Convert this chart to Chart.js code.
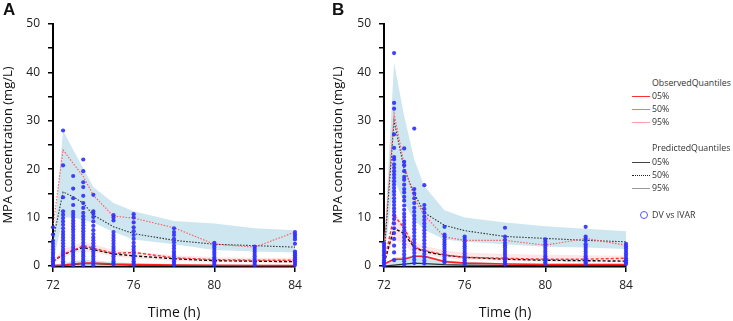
<!DOCTYPE html>
<html>
<head>
<meta charset="utf-8">
<script src="https://cdn.jsdelivr.net/npm/chart.js@4.4.1/dist/chart.umd.min.js"></script>
<style>
  body { margin: 0; background: #fff; width: 733px; height: 321px; overflow: hidden; position: relative; font-family: "Open Sans", sans-serif; }
  canvas { position: absolute; top: 0; }
  .panel { position: absolute; font: bold 17px "Liberation Sans", Arial, sans-serif; color: #111; }
  .leg { position: absolute; left: 630px; font-family: "Open Sans", sans-serif; font-size: 8.8px; color: #333; }
  .leg div { position: absolute; white-space: nowrap; }
  .smp { position: absolute; left: 2px; width: 18px; height: 0; }
</style>
</head>
<body>
<canvas id="chartA" width="315" height="321" style="left:0px"></canvas>
<canvas id="chartB" width="310" height="321" style="left:330px"></canvas>
<div class="panel" style="left:3px; top:0px">A</div>
<div class="panel" style="left:332px; top:0px">B</div>
<div class="leg" style="top:0">
  <div style="left:22px; top:77px">ObservedQuantiles</div>
  <span class="smp" style="top:96px; border-top:1.5px solid #ff3030"></span><div style="left:22px; top:90px">05%</div>
  <span class="smp" style="top:109px; border-top:1px solid #ff7070"></span><div style="left:22px; top:103px">50%</div>
  <span class="smp" style="top:122px; border-top:1px solid #ffa0a0"></span><div style="left:22px; top:116px">95%</div>
  <div style="left:22px; top:142px">PredictedQuantiles</div>
  <span class="smp" style="top:162px; border-top:1.5px solid #444"></span><div style="left:22px; top:156px">05%</div>
  <span class="smp" style="top:175px; border-top:1px dotted #222"></span><div style="left:22px; top:169px">50%</div>
  <span class="smp" style="top:188px; border-top:1px solid #999"></span><div style="left:22px; top:182px">95%</div>
  <span style="position:absolute; left:10px; top:211px; width:6px; height:6px; border:1px solid #5555ff; border-radius:50%"></span>
  <div style="left:22px; top:209px">DV vs IVAR</div>
</div>
<script>
// sampling times (h)
const times = [72, 72.5, 73, 73.5, 74, 75, 76, 78, 80, 82, 84];

// panel A : quantile lines
const obs95A = [8, 24, 21.2, 18.5, 14.6, 10.3, 9.9, 7.9, 4.5, 3.9, 7];
const pred95A = [5.3, 15.3, 14.3, 13, 10.5, 8.1, 6.7, 5.3, 4.5, 4.2, 3.9];
const obs50A = [1, 2.5, 3.2, 4.2, 3.7, 2.6, 2.8, 1.7, 1.3, 1.2, 1.2];
const pred50A = [1, 2.3, 3.2, 3.8, 3.4, 2.5, 2.1, 1.5, 1.1, 1, 0.9];
const obs05A = [0.1, 0.2, 0.4, 0.6, 0.6, 0.4, 0.3, 0.2, 0.15, 0.1, 0.1];
const pred05A = [0, 0.1, 0.3, 0.5, 0.5, 0.3, 0.2, 0.1, 0.1, 0.1, 0.1];
// panel A : shaded intervals
const bandHiA = [4, 28, 24, 20.2, 16.3, 13, 11.3, 9.3, 8.8, 7.8, 7.4];
const bandLoA = [0.8, 10, 10, 9.5, 9, 7, 5.5, 4.5, 3.3, 3, 2.8];
const pinkHiA = [1.2, 3.5, 4.2, 5, 4.5, 3.3, 3, 2.2, 1.8, 1.7, 1.6];
const pinkLoA = [0.5, 1.8, 2.5, 3, 2.8, 2, 1.6, 1.1, 0.8, 0.7, 0.6];
const lowHiA = [0.2, 0.6, 1, 1.3, 1.2, 0.8, 0.6, 0.4, 0.3, 0.3, 0.2];
const lowLoA = [0, 0, 0, 0, 0, 0, 0, 0, 0, 0, 0];
// panel A : observations per time
const dvA = [
  [8, 6.5, 5.2, 4.6, 4, 3.4, 2.8, 2.3, 1.8, 1.4, 1, 0.6, 0.3, 0],
  [28, 20.8, 14.2, 11.3, 10.6, 9.9, 9.2, 8.5, 7.8, 7.1, 6.5, 5.9, 5.3, 4.7, 4.1, 3.5, 3, 2.5, 2, 1.5, 1, 0.6, 0.2],
  [18.6, 16, 14, 12.6, 11.2, 10.6, 10, 9.4, 8.8, 8.2, 7.6, 7, 6.4, 5.8, 5.2, 4.6, 4, 3.5, 3, 2.5, 2, 1.5, 1, 0.5, 0.1],
  [22, 19.6, 17.3, 16.3, 14.5, 13, 12, 11, 10.3, 9.6, 9, 8.4, 7.8, 7.2, 6.6, 6, 5.4, 4.8, 4.2, 3.6, 3, 2.5, 2, 1.5, 1, 0.5, 0.1],
  [14.7, 11.3, 10.8, 10.1, 9.2, 8.3, 7.4, 6.6, 5.9, 5.3, 4.7, 4.1, 3.5, 3, 2.5, 2, 1.5, 1, 0.5, 0.1],
  [10.5, 10, 9.4, 7, 6.4, 5.8, 5.2, 4.6, 4, 3.5, 3, 2.5, 2, 1.5, 1, 0.6, 0.3],
  [10.7, 10, 9, 8, 7.2, 6.4, 5.6, 4.8, 4.1, 3.5, 3, 2.5, 2, 1.5, 1, 0.6, 0.2],
  [7.8, 7, 6.4, 5.6, 4.9, 4.2, 3.6, 3, 2.5, 2, 1.5, 1, 0.6, 0.2],
  [4.8, 4.3, 3.8, 3.3, 2.8, 2.3, 1.8, 1.4, 1, 0.6, 0.2],
  [4, 3.5, 3, 2.5, 2, 1.5, 1, 0.6, 0.2],
  [7, 6.5, 6, 5.5, 4.6, 3, 2.6, 2.2, 1.8, 1.4, 1, 0.6, 0.2]
];

// panel B : quantile lines
const obs95B = [3, 31.5, 21, 13.9, 10.5, 6, 5.3, 5.3, 4.3, 5.7, 4.3];
const pred95B = [2, 30, 20, 15, 11, 8.4, 7.3, 6.1, 5.7, 5.3, 5];
const obs50B = [0.5, 10.5, 7.8, 3.9, 3.2, 2.3, 1.8, 1.6, 1.4, 1.4, 1.6];
const pred50B = [0.5, 7.8, 6.7, 3.8, 3, 2.2, 1.8, 1.4, 1.2, 1.1, 1];
const obs05B = [0.4, 1.4, 1.4, 2, 2, 0.9, 0.6, 0.4, 0.3, 0.3, 0.3];
const pred05B = [0, 0.2, 0.4, 0.6, 0.5, 0.3, 0.2, 0.1, 0.1, 0.1, 0.1];
// panel B : shaded intervals
const bandHiB = [4, 42, 31, 22, 16.5, 11.5, 10, 9, 8.2, 7.7, 7.2];
const bandLoB = [1, 18, 13, 9.5, 7.5, 5.5, 5, 4.5, 4, 3.8, 3.5];
const pinkHiB = [1, 11, 8.5, 5, 4.2, 3.2, 2.8, 2.5, 2.3, 2.2, 2.1];
const pinkLoB = [0.3, 5.5, 4.5, 2.6, 2.2, 1.6, 1.3, 1.1, 0.9, 0.8, 0.8];
const lowHiB = [0.3, 1.8, 1.8, 2.2, 2.2, 1.2, 0.9, 0.6, 0.5, 0.5, 0.4];
const lowLoB = [0, 0, 0, 0, 0, 0, 0, 0, 0, 0, 0];
// panel B : observations per time
const dvB = [
  [4.7, 4.2, 3.7, 3.2, 2.7, 2.2, 1.7, 1.2, 0.8, 0.4, 0],
  [44, 33.7, 32.5, 27.2, 24.4, 22.5, 22, 21, 20.3, 19.6, 18.9, 18.2, 17.5, 16.8, 16.1, 15.4, 14.7, 14, 13.3, 12.6, 11.9, 11.2, 10.5, 9.7, 8.8, 7.8, 6.8, 5.6, 4.2, 2.8, 1.2],
  [24.3, 21.5, 20.8, 19.6, 18.4, 17.8, 16.8, 15.9, 15.2, 14.3, 13.5, 12.5, 11.6, 10.8, 10.1, 9.4, 8.7, 8, 7.3, 6.6, 5.9, 5.2, 4.5, 3.8, 3.1, 2.4, 1.7, 1, 0.3],
  [28.4, 15.9, 15, 14, 13, 12, 11.2, 10.4, 9.7, 9, 8.3, 7.6, 6.9, 6.2, 5.5, 4.8, 4.1, 3.4, 2.7, 2, 1.3, 0.6],
  [16.7, 12.6, 11.8, 11, 10.2, 9.5, 8.8, 8.1, 7.4, 6.7, 6, 5.3, 4.6, 3.9, 3.2, 2.5, 1.8, 1.1, 0.5],
  [8.1, 6.5, 6.1, 5.5, 5, 4.5, 4, 3.5, 3, 2.5, 2, 1.5, 1.1, 0.7],
  [6.1, 5.6, 5.1, 4.6, 4.1, 3.6, 3.1, 2.6, 2.1, 1.6, 1.2, 0.8, 0.4],
  [7.9, 6.1, 5.4, 4.8, 4.3, 3.8, 3.3, 2.8, 2.3, 1.8, 1.4, 1, 0.6, 0.3],
  [5.5, 5, 4.5, 4, 3.5, 3, 2.5, 2, 1.6, 1.2, 0.8, 0.4],
  [8.1, 6.1, 5.6, 5.2, 4.5, 4, 3.5, 3, 2.5, 2, 1.6, 1.2, 0.8, 0.4],
  [4.6, 4.1, 3.6, 3.1, 2.6, 2.1, 1.6, 1.2, 0.8, 0.4]
];

const xTicks = [72, 76, 80, 84];
const yTicks = [0, 10, 20, 30, 40, 50];

const blueBand = 'rgba(200, 227, 237, 0.9)';
const pinkBand = 'rgba(255, 220, 220, 0.7)';

function xy(vals) {
  return times.map((t, i) => ({ x: t, y: vals[i] }));
}

function makeChart(id, d, yWidth, padRight) {
  const pts = [];
  d.dv.forEach((col, i) => col.forEach(v => pts.push({ x: times[i], y: v })));

  const line = (vals, color, width, dash, order) => ({
    type: 'line', data: xy(vals), borderColor: color, borderWidth: width,
    borderDash: dash, pointRadius: 0, fill: false, tension: 0, order: order
  });
  const band = (vals, color, fill) => ({
    type: 'line', data: xy(vals), borderWidth: 0, borderColor: 'rgba(0,0,0,0)',
    backgroundColor: color, pointRadius: 0, fill: fill, tension: 0, order: 5
  });

  return new Chart(document.getElementById(id), {
    type: 'scatter',
    data: {
      datasets: [
        band(d.bandHi, blueBand, '+1'),
        band(d.bandLo, blueBand, false),
        band(d.pinkHi, pinkBand, '+1'),
        band(d.pinkLo, pinkBand, false),
        band(d.lowHi, blueBand, '+1'),
        band(d.lowLo, blueBand, false),
        line(d.obs95, '#ff5a5a', 1.1, [1.5, 1.5], 2),
        line(d.pred95, '#333', 1.1, [1.5, 1.5], 2),
        line(d.obs50, '#ff3030', 1.4, [3, 2], 2),
        line(d.pred50, '#111', 1.4, [3, 2], 2),
        line(d.obs05, '#ff2020', 1.6, [], 2),
        line(d.pred05, '#333', 1.2, [], 2),
        {
          type: 'scatter', data: pts, backgroundColor: 'rgba(45, 45, 255, 0.9)',
          borderWidth: 0, pointRadius: 2.1, order: 0
        }
      ]
    },
    options: {
      responsive: false,
      animation: false,
      clip: false,
      layout: { padding: { top: 24, right: padRight, bottom: 0, left: 0 } },
      plugins: { legend: { display: false }, tooltip: { enabled: false } },
      scales: {
        x: {
          type: 'linear', min: 72, max: 84,
          afterFit: s => { s.height = 55; },
          afterBuildTicks: s => { s.ticks = xTicks.map(v => ({ value: v })); },
          ticks: { color: '#222', padding: 6, font: { family: 'Open Sans', size: 12 } },
          grid: { drawOnChartArea: false, drawTicks: true, tickLength: 6, color: '#000', lineWidth: 1.5 },
          border: { color: '#000', width: 2.5 },
          title: { display: true, text: 'Time (h)', color: '#111', padding: { top: 4, bottom: 0 },
                   font: { family: 'Open Sans', size: 14 } }
        },
        y: {
          type: 'linear', min: 0, max: 50,
          afterFit: s => { s.width = yWidth; },
          ticks: { stepSize: 5, color: '#222', padding: 8, font: { family: 'Open Sans', size: 12 },
                   callback: v => yTicks.includes(v) ? v : '' },
          grid: { drawOnChartArea: false, drawTicks: true, tickLength: 5, color: '#000', lineWidth: 1.5 },
          border: { color: '#000', width: 2 },
          title: { display: true, text: 'MPA concentration (mg/L)', color: '#111', padding: { top: 0, bottom: 0 },
                   font: { family: 'Open Sans', size: 13 } }
        }
      }
    }
  });
}

makeChart('chartA', {
  dv: dvA, obs95: obs95A, pred95: pred95A, obs50: obs50A, pred50: pred50A, obs05: obs05A, pred05: pred05A,
  bandHi: bandHiA, bandLo: bandLoA, pinkHi: pinkHiA, pinkLo: pinkLoA, lowHi: lowHiA, lowLo: lowLoA
}, 53, 20);

makeChart('chartB', {
  dv: dvB, obs95: obs95B, pred95: pred95B, obs50: obs50B, pred50: pred50B, obs05: obs05B, pred05: pred05B,
  bandHi: bandHiB, bandLo: bandLoB, pinkHi: pinkHiB, pinkLo: pinkLoB, lowHi: lowHiB, lowLo: lowLoB
}, 54, 14);
</script>
</body>
</html>
